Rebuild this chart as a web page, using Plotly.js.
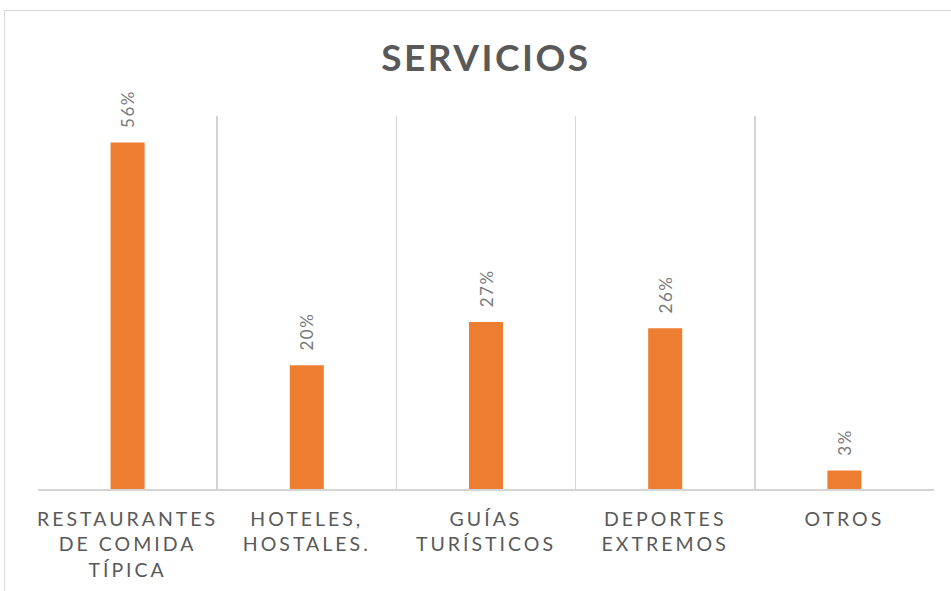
<!DOCTYPE html>
<html>
<head>
<meta charset="utf-8">
<script src="https://cdn.plot.ly/plotly-3.0.1.min.js"></script>
<style>
  html, body { margin:0; padding:0; background:#fff; overflow:hidden; }
  #frame { position:absolute; left:4px; top:10px; width:1000px; height:700px; border:1px solid #d9d9d9; box-sizing:border-box; }
  #chart { position:absolute; left:0; top:0; width:951px; height:591px; }
  .xtick text { letter-spacing: 3px; }
  .gtitle { letter-spacing: 2.5px; }
  .bartext { letter-spacing: 1.5px; }
</style>
</head>
<body>
<div id="frame"></div>
<div id="chart"></div>
<script>
const categories = [
  "RESTAURANTES<br>DE COMIDA<br>TÍPICA",
  "HOTELES,<br>HOSTALES.",
  "GUÍAS<br>TURÍSTICOS",
  "DEPORTES<br>EXTREMOS",
  "OTROS"
];
const values = [56, 20, 27, 26, 3];
const labels = values.map(v => "\u00a0\u00a0" + v + "%");

const FONT = 'Lato, "Noto Sans", sans-serif';

Plotly.newPlot('chart', [{
  type: 'bar',
  x: categories,
  y: values,
  text: labels,
  textposition: 'outside',
  textangle: -90,
  constraintext: 'none',
  cliponaxis: false,
  textfont: { family: FONT, size: 17, color: '#7a7a7a' },
  marker: { color: '#ED7D31' },
  hoverinfo: 'none'
}], {
  width: 951, height: 591,
  paper_bgcolor: 'rgba(0,0,0,0)',
  plot_bgcolor: 'rgba(0,0,0,0)',
  margin: { l: 38, r: 17, t: 116, b: 102 },
  bargap: 0.81,
  showlegend: false,
  title: {
    text: '<b>SERVICIOS</b>',
    font: { family: FONT, size: 37, color: '#595959' },
    x: 0.511, xanchor: 'center', xref: 'container',
    y: 0.902, yanchor: 'middle', yref: 'container'
  },
  xaxis: {
    type: 'category',
    tickson: 'boundaries',
    showgrid: true,
    gridcolor: '#d4d4d4',
    gridwidth: 1.5,
    showline: true,
    linecolor: '#d4d4d4',
    linewidth: 1.5,
    ticks: '',
    ticklabelstandoff: 12,
    tickfont: { family: FONT, size: 19.5, color: '#595959' },
    fixedrange: true
  },
  yaxis: {
    range: [0, 60.3],
    showgrid: false,
    zeroline: false,
    showticklabels: false,
    ticks: '',
    fixedrange: true
  }
}, { displayModeBar: false, staticPlot: true });
</script>
</body>
</html>
